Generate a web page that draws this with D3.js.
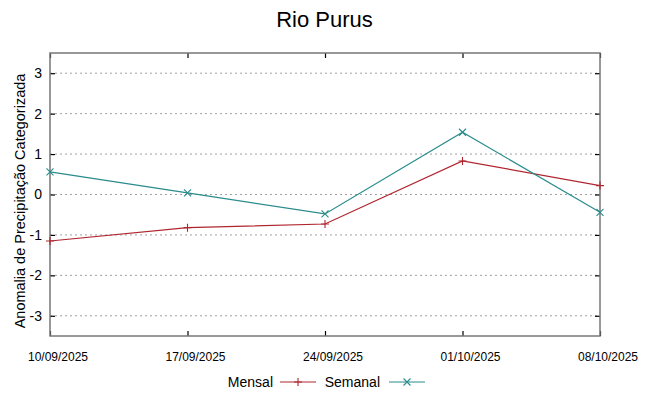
<!DOCTYPE html>
<html>
<head>
<meta charset="utf-8">
<script src="https://cdn.jsdelivr.net/npm/d3@7"></script>
<style>
  body { margin: 0; background: #fff; }
  svg { font-family: "Liberation Sans", Arial, sans-serif; }
  .grid line { stroke: #a0a0a0; stroke-dasharray: 2,3; }
  .axis path { display: none; }
  .axis line { stroke: #000; stroke-width: 1.2; }
</style>
</head>
<body>
<div class="chart"></div>
<script>
var dates = ["10/09/2025", "17/09/2025", "24/09/2025", "01/10/2025", "08/10/2025"];
var mensal = [-1.15, -0.82, -0.73, 0.83, 0.22];
var semanal = [0.56, 0.04, -0.48, 1.54, -0.44];
var yTicks = [-3, -2, -1, 0, 1, 2, 3];

var W = 648, H = 396;
var margin = { top: 53, right: 48, bottom: 60, left: 50 },
    width = W - margin.left - margin.right,
    height = H - margin.top - margin.bottom;

var svg = d3.select(".chart").append("svg")
    .attr("width", W).attr("height", H);
var g = svg.append("g")
    .attr("transform", "translate(" + margin.left + "," + margin.top + ")");

var x = d3.scalePoint().domain(dates).range([0, width]);
var y = d3.scaleLinear().domain([-3.5, 3.5]).range([height, 0]);

// grid
g.append("g").attr("class", "grid")
  .selectAll("line").data(yTicks).enter().append("line")
  .attr("x1", 0).attr("x2", width)
  .attr("y1", function(d){ return y(d); })
  .attr("y2", function(d){ return y(d); });

// y axis left, ticks inward
var yl = g.append("g").attr("class", "axis")
  .call(d3.axisLeft(y).tickValues(yTicks).tickSizeInner(-5).tickSizeOuter(0)
    .tickPadding(8).tickFormat(function(d){ return String(d); }));
yl.selectAll("text").style("font-size", "14px").attr("fill", "#000");
// mirror ticks on right
g.append("g").attr("class", "axis")
  .attr("transform", "translate(" + width + ",0)")
  .call(d3.axisRight(y).tickValues(yTicks).tickSizeInner(-5).tickSizeOuter(0).tickFormat(""));

// x axis: inward ticks bottom and top
var xa = g.append("g").attr("class", "axis")
  .attr("transform", "translate(0," + height + ")")
  .call(d3.axisBottom(x).tickSizeInner(-5).tickSizeOuter(0).tickPadding(16));
xa.selectAll("text").style("font-size", "12px").attr("fill", "#000")
  .attr("dx", 7.5);
g.append("g").attr("class", "axis")
  .call(d3.axisTop(x).tickSizeInner(-5).tickSizeOuter(0).tickFormat(""));

// frame
g.append("rect").attr("width", width).attr("height", height)
  .attr("fill", "none").attr("stroke", "#777").attr("stroke-width", 1.5);

var line = d3.line()
  .x(function(d, i){ return x(dates[i]); })
  .y(function(d){ return y(d); });

var cMensal = "#b0262f", cSemanal = "#2a8c8c";

g.append("path").datum(mensal).attr("d", line)
  .attr("fill", "none").attr("stroke", cMensal).attr("stroke-width", 1.2);
g.append("path").datum(semanal).attr("d", line)
  .attr("fill", "none").attr("stroke", cSemanal).attr("stroke-width", 1.2);

// markers
function plus(sel, cx, cy, c) {
  sel.append("path").attr("d", "M" + (cx-4) + "," + cy + "H" + (cx+4) + "M" + cx + "," + (cy-4) + "V" + (cy+4))
    .attr("stroke", c).attr("stroke-width", 1.1).attr("fill", "none");
}
function cross(sel, cx, cy, c) {
  sel.append("path").attr("d", "M" + (cx-3.5) + "," + (cy-3.5) + "L" + (cx+3.5) + "," + (cy+3.5) +
      "M" + (cx-3.5) + "," + (cy+3.5) + "L" + (cx+3.5) + "," + (cy-3.5))
    .attr("stroke", c).attr("stroke-width", 1.1).attr("fill", "none");
}
mensal.forEach(function(v, i){ plus(g, x(dates[i]), y(v), cMensal); });
semanal.forEach(function(v, i){ cross(g, x(dates[i]), y(v), cSemanal); });

// title
svg.append("text").attr("x", 324.5).attr("y", 27).attr("text-anchor", "middle")
  .style("font-size", "22px").text("Rio Purus");

// y label
svg.append("text")
  .attr("transform", "translate(25,201) rotate(-90)")
  .attr("text-anchor", "middle").style("font-size", "14.5px")
  .text("Anomalia de Precipitação Categorizada");

// legend
var ly = 382;
svg.append("text").attr("x", 273).attr("y", ly + 5).attr("text-anchor", "end")
  .style("font-size", "14px").text("Mensal");
svg.append("line").attr("x1", 280).attr("x2", 316).attr("y1", ly).attr("y2", ly)
  .attr("stroke", cMensal).attr("stroke-width", 1.2);
plus(svg, 298, ly, cMensal);
svg.append("text").attr("x", 380).attr("y", ly + 5).attr("text-anchor", "end")
  .style("font-size", "14px").text("Semanal");
svg.append("line").attr("x1", 389).attr("x2", 425).attr("y1", ly).attr("y2", ly)
  .attr("stroke", cSemanal).attr("stroke-width", 1.2);
cross(svg, 407, ly, cSemanal);
</script>
</body>
</html>
